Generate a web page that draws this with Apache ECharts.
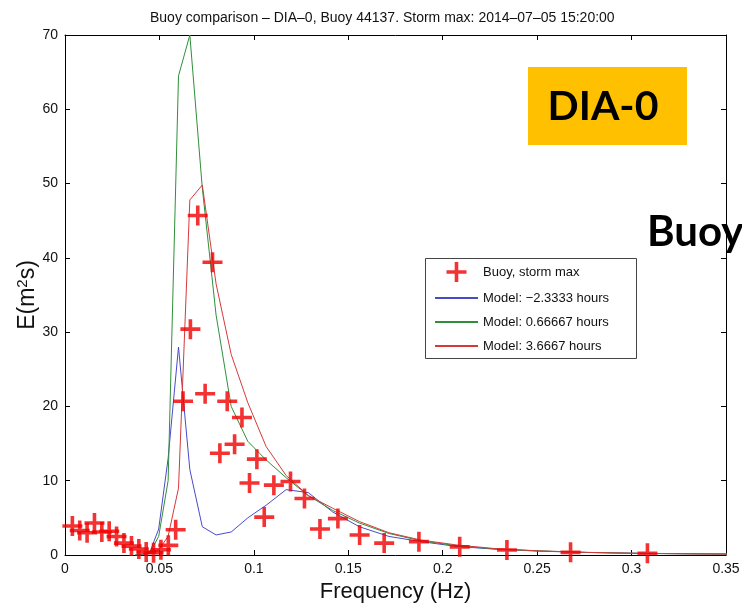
<!DOCTYPE html>
<html>
<head>
<meta charset="utf-8">
<script src="https://cdn.jsdelivr.net/npm/echarts@6/dist/echarts.min.js"></script>
<style>html,body{margin:0;padding:0;background:#fff;}#c{width:742px;height:605px;}</style>
</head>
<body>
<div id="c"></div>
<script>
// Buoy observations (frequency in Hz, energy in m^2 s)
var buoyFreq = [0.0039,0.0078,0.0117,0.0156,0.0195,0.0234,0.0273,0.0312,0.0352,0.0391,0.0430,0.0469,0.0508,0.0547,0.0586,0.0625,0.0664,0.0703,0.0742,0.0781,0.0820,0.0859,0.0898,0.0937,0.0977,0.1016,0.1055,0.1106,0.1194,0.1268,0.1350,0.1445,0.1560,0.1690,0.1874,0.2090,0.2340,0.2677,0.3084];
var buoyE = [3.9,3.3,3.0,4.3,3.1,3.2,2.5,1.6,1.2,0.8,0.4,0.3,0.7,1.3,3.4,20.7,30.4,45.7,21.7,39.4,13.7,20.7,14.9,18.5,9.7,12.9,5.1,9.4,9.9,7.6,3.5,4.9,2.7,1.6,1.8,1.1,0.67,0.36,0.23];
// Model frequency grid
var modelFreq = [0.0373,0.0410,0.0451,0.0496,0.0546,0.0601,0.0661,0.0727,0.0800,0.0880,0.0968,0.1065,0.1171,0.1288,0.1417,0.1559,0.1715,0.1886,0.2075,0.2282,0.2511,0.2762,0.3038,0.3342,0.3676];
var modelA = [0,0.1,0.5,3.5,13,28,11.5,3.8,2.7,3.1,5.0,6.7,8.8,8.4,5.8,3.8,2.5,1.8,1.15,0.78,0.52,0.34,0.23,0.16,0.11];
var modelB = [0,0.1,0.4,2.5,10,64.5,70,49.4,32.3,20,15.3,12.8,10.4,8.0,6.0,4.3,2.9,1.9,1.25,0.8,0.55,0.35,0.22,0.15,0.1];
var modelC = [0,0,0.2,0.7,2.5,9,47.8,49.8,36.5,27,20.5,14.6,10.7,8.0,6.3,4.5,3.0,2.0,1.35,0.85,0.55,0.35,0.22,0.15,0.1];
var seriesNames = ['Buoy, storm max','Model: \u22122.3333 hours','Model: 0.66667 hours','Model: 3.6667 hours'];
var xTicks = {min:0, max:0.35, step:0.05};
var yTicks = {min:0, max:70, step:10};

function zip(xs, ys){ var out=[]; for(var i=0;i<xs.length;i++) out.push([xs[i], ys[i]]); return out; }

var FONT = 'Liberation Sans, Arial, sans-serif';
var crossPath = 'path://M8.2,0 H11.8 V8.2 H20 V11.8 H11.8 V20 H8.2 V11.8 H0 V8.2 H8.2 Z';

var chart = echarts.init(document.getElementById('c'), null, {renderer:'canvas'});

var axisCommon = {
  axisLine:{show:true, onZero:false, lineStyle:{color:'#000', width:1}},
  axisTick:{show:true, inside:true, length:5, lineStyle:{color:'#000'}},
  splitLine:{show:false}
};

function xAx(pos, labels){
  return Object.assign({
    type:'value', position:pos, min:xTicks.min, max:xTicks.max, interval:xTicks.step,
    axisLabel:{show:labels, color:'#111', fontSize:14, fontFamily:FONT, margin:7,
      formatter:function(v){ return String(+v.toFixed(2)); }}
  }, axisCommon, labels ? {
    name:'Frequency (Hz)', nameLocation:'middle', nameGap:24,
    nameTextStyle:{color:'#111', fontSize:22, fontFamily:FONT}
  } : {});
}
function yAx(pos, labels){
  return Object.assign({
    type:'value', position:pos, min:yTicks.min, max:yTicks.max, interval:yTicks.step,
    axisLabel:{show:labels, color:'#111', fontSize:14, fontFamily:FONT, margin:7}
  }, axisCommon, labels ? {
    name:'E(m{sup|2}s)', nameLocation:'middle', nameGap:24, nameRotate:90, nameMoveOverlap:false,
    nameTextStyle:{color:'#111', fontSize:23, fontFamily:FONT,
      rich:{sup:{fontSize:15, fontFamily:FONT, color:'#111', verticalAlign:'top', padding:[0,0,11,0]}}}
  } : {});
}

var lineLegendStyle = {opacity:0};

var option = {
  backgroundColor:'#fff',
  animation:false,
  title:{
    text:'Buoy comparison \u2013 DIA\u20130, Buoy 44137. Storm max: 2014\u201307\u201305 15:20:00',
    left:150, top:11, padding:0,
    textStyle:{fontSize:14, fontWeight:'normal', color:'#111', fontFamily:FONT}
  },
  grid:{left:65, right:16, top:35, bottom:50, containLabel:false, outerBoundsMode:'none'},
  xAxis:[xAx('bottom', true), xAx('top', false)],
  yAxis:[yAx('left', true), yAx('right', false)],
  legend:{
    orient:'vertical', left:434, top:262, padding:0,
    itemWidth:43, itemHeight:20, itemGap:8, z:10,
    textStyle:{fontSize:13, color:'#111', fontFamily:FONT},
    data:[
      {name:seriesNames[0]},
      {name:seriesNames[1], itemStyle:lineLegendStyle},
      {name:seriesNames[2], itemStyle:lineLegendStyle},
      {name:seriesNames[3], itemStyle:lineLegendStyle}
    ]
  },
  graphic:[
    {type:'rect', z:5, shape:{x:425.5, y:258.5, width:211, height:100}, style:{fill:'#fff', stroke:'#444', lineWidth:1}},
    {type:'rect', z:5, shape:{x:528, y:67, width:159, height:78}, style:{fill:'#FFC000'}},
    {type:'text', z:6, x:603, y:107, style:{text:'DIA-0', fill:'#000', font:'bold 41px Lato, "Open Sans", sans-serif', textAlign:'center', textVerticalAlign:'middle'}},
    {type:'text', z:6, x:647, y:232, style:{text:'Buoy', fill:'#000', font:'bold 42px Lato, "Open Sans", sans-serif', textAlign:'left', textVerticalAlign:'middle'}}
  ],
  series:[
    {name:seriesNames[0], type:'scatter', data:zip(buoyFreq, buoyE), symbol:crossPath, symbolSize:20,
     itemStyle:{color:'#f00000'}, z:4},
    {name:seriesNames[1], type:'line', data:zip(modelFreq, modelA), symbol:'none', showSymbol:false,
     lineStyle:{color:'#4a4ac8', width:1}, itemStyle:{color:'#4a4ac8'}, z:3},
    {name:seriesNames[2], type:'line', data:zip(modelFreq, modelB), symbol:'none', showSymbol:false,
     lineStyle:{color:'#2f8f3a', width:1}, itemStyle:{color:'#2f8f3a'}, z:3},
    {name:seriesNames[3], type:'line', data:zip(modelFreq, modelC), symbol:'none', showSymbol:false,
     lineStyle:{color:'#d43a3a', width:1}, itemStyle:{color:'#d43a3a'}, z:3}
  ]
};
chart.setOption(option);
</script>
</body>
</html>
